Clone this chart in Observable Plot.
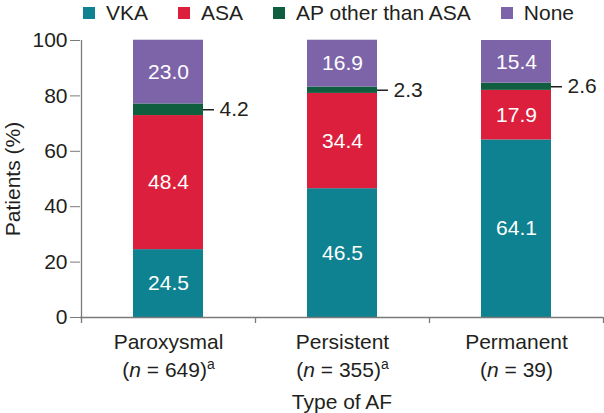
<!DOCTYPE html>
<html><head><meta charset="utf-8">
<script src="https://cdn.jsdelivr.net/npm/d3@7"></script>
<script src="https://cdn.jsdelivr.net/npm/@observablehq/plot@0.6"></script>
<style>
html,body{margin:0;padding:0;background:#fff;}
#wrap{position:relative;width:604px;height:413px;font-family:"Liberation Sans",Arial,Helvetica,sans-serif;}
#wrap svg{position:absolute;left:0;top:0;}
#legend{position:absolute;left:83px;top:0;height:26px;display:flex;align-items:center;font-size:21px;color:#231f20;white-space:nowrap;}
.item{display:flex;align-items:center;margin-right:30px;}
.sw{width:12px;height:12px;margin-right:11px;}
</style></head><body>
<div id="wrap"></div>
<script>
// ---- data ----
const types = ["Paroxysmal", "Persistent", "Permanent"];
const nValues = [649, 355, 39];
const footnotes = ["a", "a", ""];
const drugs = ["VKA", "ASA", "AP other than ASA", "None"];
const colors = ["#0e8290", "#dc1f3c", "#0f5e3f", "#7d64a9"];
const vka = [24.5, 46.5, 64.1];
const asa = [48.4, 34.4, 17.9];
const apOther = [4.2, 2.3, 2.6];
const none = [23.0, 16.9, 15.4];
const yTicks = [0, 20, 40, 60, 80, 100];
const AP = drugs[2];

const series = [vka, asa, apOther, none];
const data = types.flatMap((t, i) => drugs.map((d, j) => ({type: t, drug: d, value: series[j][i]})));

const textColor = "#231f20";
const axisColor = "#7a7a7a";
const font = "'Liberation Sans', Arial, Helvetica, sans-serif";

const base = {
  width: 604, height: 413,
  marginLeft: 80, marginRight: 1, marginTop: 40, marginBottom: 96,
  style: {fontFamily: font, fontSize: "21px", background: "white", color: textColor},
  x: {domain: types, paddingInner: 0.6, paddingOuter: 0.3},
  y: {domain: [0, 100]},
  color: {domain: drugs, range: colors}
};

// probe the band scale geometry
const probe = Plot.plot({...base, marks: [Plot.barY(data, {x: "type", y: "value", fill: "drug"})]});
const xs = probe.scale("x");
const bw = xs.bandwidth, step = xs.step;

const chart = Plot.plot({
  ...base,
  marks: [
    Plot.barY(data, {x: "type", y: "value", fill: "drug"}),
    Plot.text(data, Plot.stackY({x: "type", y: "value",
      text: d => d.drug === AP ? "" : d.value.toFixed(1), fill: "white", fontSize: 21})),
    Plot.tickY(data, Plot.stackY({x: "type", y: "value", stroke: textColor, strokeWidth: 1.5,
      strokeOpacity: d => d.drug === AP ? 1 : 0, dx: bw, insetRight: bw - 11})),
    Plot.text(data, Plot.stackY({x: "type", y: "value",
      text: d => d.drug === AP ? d.value.toFixed(1) : "", textAnchor: "start",
      dx: bw / 2 + 16, fill: textColor, fontSize: 21})),
    // axis lines
    Plot.ruleY([0], {stroke: axisColor, strokeWidth: 1.3}),
    Plot.ruleX([types[0]], {x: d => d, y1: 0, y2: 100, dx: -step / 2, stroke: axisColor, strokeWidth: 1.3}),
    // boundary ticks of x axis
    Plot.ruleX(types, {x: d => d, y1: 0, y2: 0, insetBottom: -6, dx: -step / 2, stroke: axisColor, strokeWidth: 1.3}),
    Plot.ruleX([types[types.length - 1]], {x: d => d, y1: 0, y2: 0, insetBottom: -6, dx: step / 2, stroke: axisColor, strokeWidth: 1.3}),
    Plot.axisY({ticks: yTicks, tickSize: 10, tickPadding: 3, fontSize: 21, stroke: axisColor, fill: textColor,
      label: "Patients (%)", labelAnchor: "center", labelOffset: 75, labelArrow: "none"}),
    Plot.axisX({tickSize: 0, tickPadding: 12, fontSize: 21, fill: textColor, lineHeight: 1.33,
      tickFormat: d => { const i = types.indexOf(d); return d + "\n(n = " + nValues[i] + ")" + footnotes[i]; },
      label: "Type of AF", labelAnchor: "center", labelOffset: 91, labelArrow: "none"})
  ]
});

// italic n and superscript footnote in the x tick labels
const NS = "http://www.w3.org/2000/svg";
chart.querySelectorAll('g[aria-label="x-axis tick label"] text').forEach(t => {
  const spans = t.querySelectorAll("tspan");
  const line = spans.length > 1 ? spans[1] : null;
  if (!line) return;
  const i = types.findIndex(c => spans[0].textContent === c);
  if (i < 0) return;
  line.textContent = "";
  line.appendChild(document.createTextNode("("));
  const n = document.createElementNS(NS, "tspan");
  n.setAttribute("font-style", "italic");
  n.textContent = "n";
  line.appendChild(n);
  line.appendChild(document.createTextNode(" = " + nValues[i] + ")"));
  if (footnotes[i]) {
    const s = document.createElementNS(NS, "tspan");
    s.setAttribute("font-size", "14");
    s.setAttribute("dy", "-8");
    s.textContent = footnotes[i];
    line.appendChild(s);
  }
});

const wrap = document.getElementById("wrap");
wrap.appendChild(chart);

// legend
const legend = document.createElement("div");
legend.id = "legend";
drugs.forEach((d, j) => {
  const item = document.createElement("div");
  item.className = "item";
  const sw = document.createElement("div");
  sw.className = "sw";
  sw.style.background = colors[j];
  const lab = document.createElement("span");
  lab.textContent = d;
  item.appendChild(sw); item.appendChild(lab);
  legend.appendChild(item);
});
wrap.appendChild(legend);
</script>
</body></html>
